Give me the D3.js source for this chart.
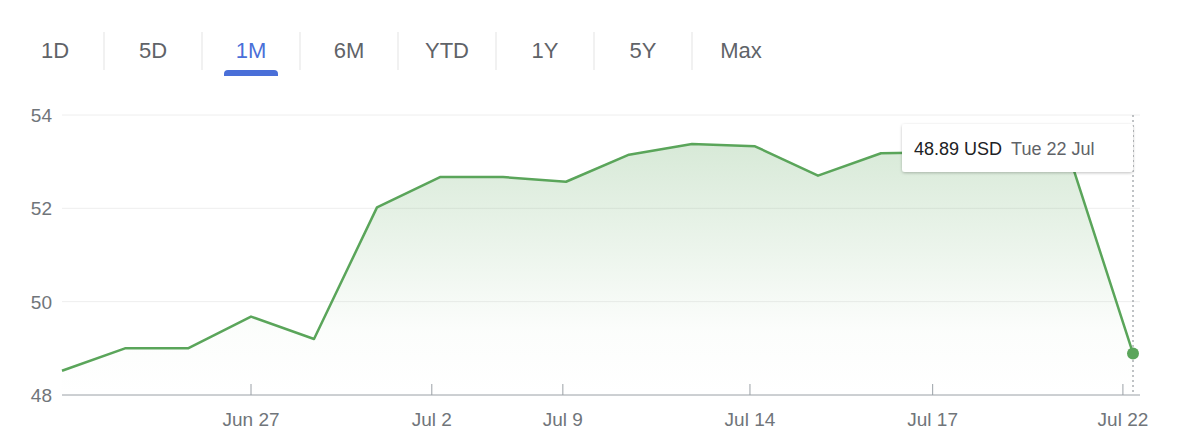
<!DOCTYPE html>
<html>
<head>
<meta charset="utf-8">
<script src="https://cdn.jsdelivr.net/npm/d3@7"></script>
<style>
  body { margin: 0; background: #fff; font-family: "Liberation Sans", Arial, sans-serif; }
</style>
</head>
<body>
<svg id="chart" width="1200" height="448"></svg>
<script>
(function () {
  "use strict";

  // Data
  var tabs = ["1D", "5D", "1M", "6M", "YTD", "1Y", "5Y", "Max"];
  var activeTab = "1M";
  var prices = [48.52, 49.0, 49.0, 49.68, 49.2, 52.02, 52.67, 52.67, 52.57, 53.15,
    53.38, 53.33, 52.7, 53.18, 53.2, 53.25, 53.07, 48.89];
  var tickLabels = ["Jun 27", "Jul 2", "Jul 9", "Jul 14", "Jul 17", "Jul 22"];
  var tickIndex = [3.0, 5.87, 7.95, 10.92, 13.82, 16.84];
  var yTicks = [48, 50, 52, 54];
  var tooltipPrice = "48.89 USD";
  var tooltipDate = "Tue 22 Jul";

  var svg = d3.select("#chart");

  // Tabs
  var tabX = d3.scalePoint().domain(tabs).range([55, 741]);
  svg.selectAll(".tab").data(tabs).enter().append("text")
    .attr("x", function (d) { return tabX(d); })
    .attr("y", 58)
    .attr("text-anchor", "middle")
    .attr("font-size", 22)
    .attr("fill", function (d) { return d === activeTab ? "#4a6fd8" : "#5f6368"; })
    .text(function (d) { return d; });
  svg.selectAll(".sep").data(tabs.slice(0, -1)).enter().append("line")
    .attr("x1", function (d) { return tabX(d) + tabX.step() / 2; })
    .attr("x2", function (d) { return tabX(d) + tabX.step() / 2; })
    .attr("y1", 32).attr("y2", 70)
    .attr("stroke", "#e3e3e3");
  svg.append("path")
    .attr("d", "M" + (tabX(activeTab) - 27) + ",76 v-2 a4,4 0 0 1 4,-4 h46 a4,4 0 0 1 4,4 v2 z")
    .attr("fill", "#4a6fd8");

  // Scales
  var x = d3.scaleLinear().domain([0, prices.length - 1]).range([62, 1133]);
  var y = d3.scaleLinear().domain([48, 54]).range([395, 115]);

  // Grid and y labels
  svg.selectAll(".grid").data(yTicks.slice(1)).enter().append("line")
    .attr("x1", 62).attr("x2", 1140)
    .attr("y1", function (d) { return y(d); }).attr("y2", function (d) { return y(d); })
    .attr("stroke", "#eeeeee");
  svg.selectAll(".ylab").data(yTicks).enter().append("text")
    .attr("x", 52).attr("y", function (d) { return y(d) + 7; })
    .attr("text-anchor", "end").attr("font-size", 19).attr("fill", "#70757a")
    .text(function (d) { return d; });

  // Area gradient, fades out towards the bottom
  var defs = svg.append("defs");
  var grad = defs.append("linearGradient")
    .attr("id", "fillGrad").attr("gradientUnits", "userSpaceOnUse")
    .attr("x1", 0).attr("y1", y(53.4)).attr("x2", 0).attr("y2", y(48));
  grad.append("stop").attr("offset", "0").attr("stop-color", "#5aa55a").attr("stop-opacity", 0.24);
  grad.append("stop").attr("offset", "0.75").attr("stop-color", "#5aa55a").attr("stop-opacity", 0.02);
  grad.append("stop").attr("offset", "1").attr("stop-color", "#5aa55a").attr("stop-opacity", 0);

  var area = d3.area()
    .x(function (d, i) { return x(i); })
    .y0(y(48)).y1(function (d) { return y(d); });
  svg.append("path").datum(prices).attr("d", area).attr("fill", "url(#fillGrad)");

  var line = d3.line().x(function (d, i) { return x(i); }).y(function (d) { return y(d); });
  svg.append("path").datum(prices).attr("d", line)
    .attr("fill", "none").attr("stroke", "#5aa55a").attr("stroke-width", 2.5)
    .attr("stroke-linejoin", "round");

  // X axis
  svg.append("line").attr("x1", 62).attr("x2", 1140).attr("y1", 395).attr("y2", 395)
    .attr("stroke", "#9aa0a6");
  svg.selectAll(".xt").data(tickIndex).enter().append("line")
    .attr("x1", function (d) { return x(d); }).attr("x2", function (d) { return x(d); })
    .attr("y1", 384).attr("y2", 395).attr("stroke", "#9aa0a6");
  svg.selectAll(".xl").data(tickIndex).enter().append("text")
    .attr("x", function (d) { return x(d); }).attr("y", 426)
    .attr("text-anchor", "middle").attr("font-size", 19).attr("fill", "#70757a")
    .text(function (d, i) { return tickLabels[i]; });

  // Hover line, point, tooltip
  var last = prices.length - 1;
  svg.append("line").attr("x1", x(last)).attr("x2", x(last)).attr("y1", 115).attr("y2", 395)
    .attr("stroke", "#80868b").attr("stroke-dasharray", "2,3");
  svg.append("circle").attr("cx", x(last)).attr("cy", y(prices[last])).attr("r", 6)
    .attr("fill", "#5aa55a");

  var shadow = defs.append("filter").attr("id", "sh")
    .attr("x", "-10%").attr("y", "-30%").attr("width", "120%").attr("height", "160%");
  shadow.append("feDropShadow").attr("dx", 0).attr("dy", 1).attr("stdDeviation", 1.5)
    .attr("flood-color", "#000").attr("flood-opacity", 0.25);
  svg.append("rect").attr("x", 902).attr("y", 124).attr("width", 231).attr("height", 48)
    .attr("rx", 3).attr("fill", "#fff").attr("filter", "url(#sh)");
  var tt = svg.append("text").attr("x", 914).attr("y", 155).attr("font-size", 18);
  tt.append("tspan").attr("fill", "#202124").text(tooltipPrice);
  tt.append("tspan").attr("dx", 9).attr("fill", "#5f6368").text(tooltipDate);
})();
</script>
</body>
</html>
